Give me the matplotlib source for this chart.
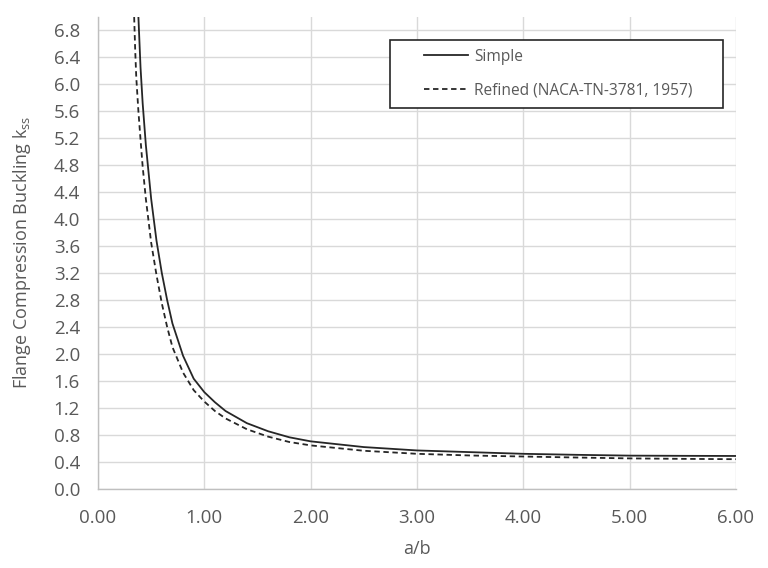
import matplotlib
matplotlib.use("Agg")
import matplotlib.pyplot as plt
from matplotlib.ticker import FormatStrFormatter, MultipleLocator
from matplotlib.patches import Rectangle

# a/b values and buckling coefficients
ab_simple = [0.36, 0.38, 0.40, 0.42, 0.45, 0.50, 0.55, 0.60, 0.65, 0.70, 0.80, 0.90,
             1.00, 1.10, 1.20, 1.40, 1.60, 1.80, 2.00, 2.50, 3.00, 3.50, 4.00, 4.50,
             5.00, 5.50, 6.00]
k_simple = [7.6, 7.0, 6.25, 5.72, 5.1, 4.3, 3.68, 3.2, 2.8, 2.45, 1.97, 1.63,
            1.43, 1.28, 1.15, 0.97, 0.85, 0.76, 0.70, 0.615, 0.565, 0.54, 0.515, 0.50,
            0.488, 0.485, 0.483]

ab_refined = [0.33, 0.34, 0.35, 0.36, 0.38, 0.40, 0.42, 0.45, 0.50, 0.55, 0.60, 0.65,
              0.70, 0.80, 0.90, 1.00, 1.10, 1.20, 1.40, 1.60, 1.80, 2.00, 2.50, 3.00,
              3.50, 4.00, 4.50, 5.00, 5.50, 6.00]
k_refined = [7.5, 7.0, 6.5, 6.1, 5.6, 5.18, 4.78, 4.3, 3.65, 3.17, 2.75, 2.4,
             2.1, 1.72, 1.46, 1.29, 1.15, 1.04, 0.88, 0.77, 0.69, 0.64, 0.56, 0.515,
             0.49, 0.475, 0.46, 0.447, 0.44, 0.435]

series_names = ["Simple", "Refined (NACA-TN-3781, 1957)"]
x_label = "a/b"
y_label = r"Flange Compression Buckling k$_{\mathregular{ss}}$"

plt.rcParams['font.family'] = ['Open Sans', 'DejaVu Sans']
text_color = "#595959"

W, H = 768, 568
fig = plt.figure(figsize=(W / 100, H / 100), dpi=100)
ax = fig.add_axes([98 / W, 1 - 488.5 / H, (736 - 98) / W, (488.5 - 17) / H])

ax.plot(ab_simple, k_simple, color="#262626", lw=1.3, ls="-", label=series_names[0])
ax.plot(ab_refined, k_refined, color="#262626", lw=1.3, ls=(0, (3.0, 2.0)),
        label=series_names[1])

ax.set_xlim(0, 6)
ax.set_ylim(0, 7.0)
ax.xaxis.set_major_locator(MultipleLocator(1.0))
ax.set_yticks([i * 0.4 for i in range(18)])
ax.xaxis.set_major_formatter(FormatStrFormatter("%.2f"))
ax.yaxis.set_major_formatter(FormatStrFormatter("%.1f"))

ax.grid(True, color="#d9d9d9", lw=1.0)
ax.set_axisbelow(True)
for s in ["top", "right"]:
    ax.spines[s].set_visible(False)
for s in ["left", "bottom"]:
    ax.spines[s].set_color("#bfbfbf")
    ax.spines[s].set_linewidth(1.0)
ax.tick_params(length=0, labelsize=13.5, labelcolor=text_color)
ax.tick_params(axis="y", pad=13)
ax.tick_params(axis="x", pad=15)

ax.set_xlabel(x_label, fontsize=13, color=text_color, labelpad=9)
ax.set_ylabel(y_label, fontsize=13, color=text_color, labelpad=15)

# legend frame (drawn in figure pixels)
frame = Rectangle((390 / W, 1 - 108 / H), (723 - 390) / W, (108 - 40) / H,
                  transform=fig.transFigure, facecolor="white", edgecolor="#262626",
                  lw=1.2, zorder=5, clip_on=False)
ax.add_patch(frame)
leg = ax.legend(loc="upper left", bbox_to_anchor=(415 / W, 1 - 40 / H),
                bbox_transform=fig.transFigure, fontsize=11.2, frameon=False,
                handlelength=2.85, labelspacing=1.15, handletextpad=0.4,
                borderpad=0.55, borderaxespad=0)
leg.set_zorder(6)
for t in leg.get_texts():
    t.set_color(text_color)

fig.savefig("out.png", dpi=100)
